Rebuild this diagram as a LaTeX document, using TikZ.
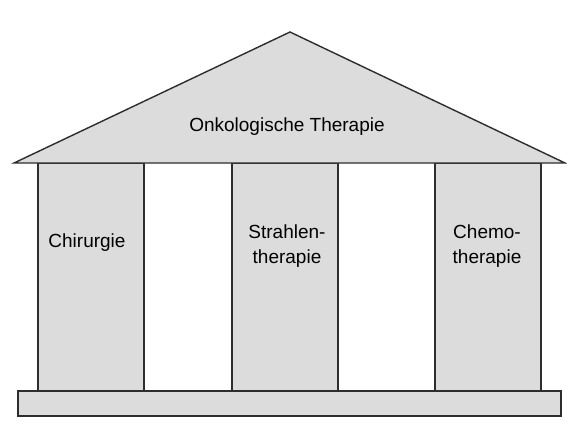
\documentclass[tikz,border=0pt]{standalone}
\usepackage{fontspec}
\setmainfont{Liberation Sans}
\usetikzlibrary{positioning}
\definecolor{stonegray}{RGB}{220,220,220}
\definecolor{edgegray}{RGB}{45,45,45}

\begin{document}
\begin{tikzpicture}[
    x=1pt, y=-1pt,
    every node/.style={font=\fontsize{19}{25}\selectfont},
    pillar/.style={draw=edgegray, line width=1.4pt, fill=stonegray, minimum width=106pt, minimum height=228pt, inner sep=0pt},
    plinth/.style={draw=edgegray, line width=1.4pt, fill=stonegray, minimum width=543pt, minimum height=25pt, inner sep=0pt},
    txt/.style={align=center, inner sep=0pt}
]
\useasboundingbox (0,0) rectangle (567,437);

% Säulen
\node[pillar] (chir) at (91,277) {};
\node[pillar] (strahl) at (285,277) {};
\node[pillar] (chemo) at (488,277) {};

% Sockel
\node[plinth] (sockel) at (289.5,403.5) {};

% Dach
\coordinate (dachL) at (14,163);
\coordinate (dachR) at (565,163);
\coordinate (dachS) at (290,32);
\draw[draw=edgegray, line width=1.4pt, fill=stonegray, line join=miter] (dachL) -- (dachS) -- (dachR) -- cycle;
\node[txt] (dach) at (287,127) {Onkologische Therapie};

% Beschriftungen
\node[txt] (chirtxt) at (87,243) {Chirurgie};
\node[txt] (strahltxt) at (287,246) {Strahlen-\\therapie};
\node[txt] (chemotxt) at (487,246) {Chemo-\\therapie};

\end{tikzpicture}
\end{document}
